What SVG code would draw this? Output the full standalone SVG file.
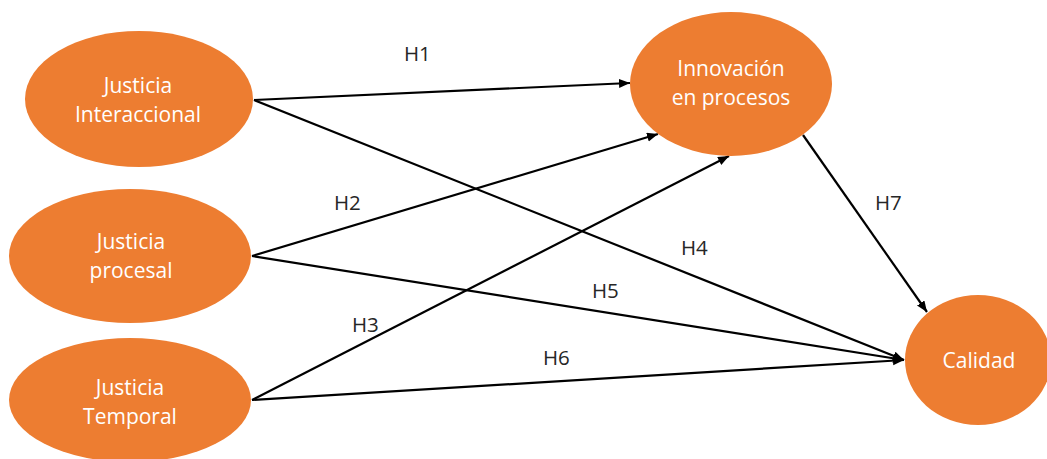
<svg xmlns="http://www.w3.org/2000/svg" width="1047" height="459" viewBox="0 0 1047 459">
<style>
.node{fill:#ED7D31;}
.nt{font-family:"Open Sans","Liberation Sans",sans-serif;font-size:21px;fill:#ffffff;text-anchor:middle;}
.lbl{font-family:"Open Sans","Liberation Sans",sans-serif;font-size:20.5px;fill:#262626;}
.edge{stroke:#000;stroke-width:2.2;fill:none;}
</style>
<defs>
<marker id="arr" markerUnits="userSpaceOnUse" markerWidth="12" markerHeight="10" refX="11" refY="4.5" orient="auto">
<path d="M0,0 L11,4.5 L0,9 Z" fill="#000"/>
</marker>
</defs>
<rect width="1047" height="459" fill="#fff"/>
<g id="connectors">
<line class="edge" x1="254" y1="100" x2="630" y2="83" marker-end="url(#arr)"/>
<line class="edge" x1="254" y1="100" x2="904" y2="360" marker-end="url(#arr)"/>
<line class="edge" x1="252" y1="256" x2="658" y2="134" marker-end="url(#arr)"/>
<line class="edge" x1="252" y1="256" x2="904" y2="360" marker-end="url(#arr)"/>
<line class="edge" x1="252" y1="400" x2="729" y2="156" marker-end="url(#arr)"/>
<line class="edge" x1="252" y1="400" x2="904" y2="360" marker-end="url(#arr)"/>
<line class="edge" x1="803" y1="135" x2="927" y2="312" marker-end="url(#arr)"/>
</g>
<g id="labels">
<text class="lbl" x="404" y="61">H1</text>
<text class="lbl" x="334" y="210">H2</text>
<text class="lbl" x="352" y="332">H3</text>
<text class="lbl" x="681" y="255">H4</text>
<text class="lbl" x="592" y="298">H5</text>
<text class="lbl" x="543" y="365">H6</text>
<text class="lbl" x="875" y="210">H7</text>
</g>
<g id="n1">
<ellipse class="node" cx="139" cy="99" rx="114" ry="68"/>
<text class="nt" x="138" y="93">Justicia</text>
<text class="nt" x="138" y="122">Interaccional</text>
</g>
<g id="n2">
<ellipse class="node" cx="130" cy="256" rx="121" ry="67"/>
<text class="nt" x="131" y="249">Justicia</text>
<text class="nt" x="131" y="278">procesal</text>
</g>
<g id="n3">
<ellipse class="node" cx="130" cy="400" rx="121" ry="62"/>
<text class="nt" x="130" y="395">Justicia</text>
<text class="nt" x="130" y="424">Temporal</text>
</g>
<g id="n4">
<ellipse class="node" cx="731" cy="84" rx="101" ry="72"/>
<text class="nt" x="731" y="76">Innovación</text>
<text class="nt" x="731" y="105">en procesos</text>
</g>
<g id="n5">
<ellipse class="node" cx="978" cy="360" rx="73" ry="65"/>
<text class="nt" x="979" y="368">Calidad</text>
</g>
</svg>
